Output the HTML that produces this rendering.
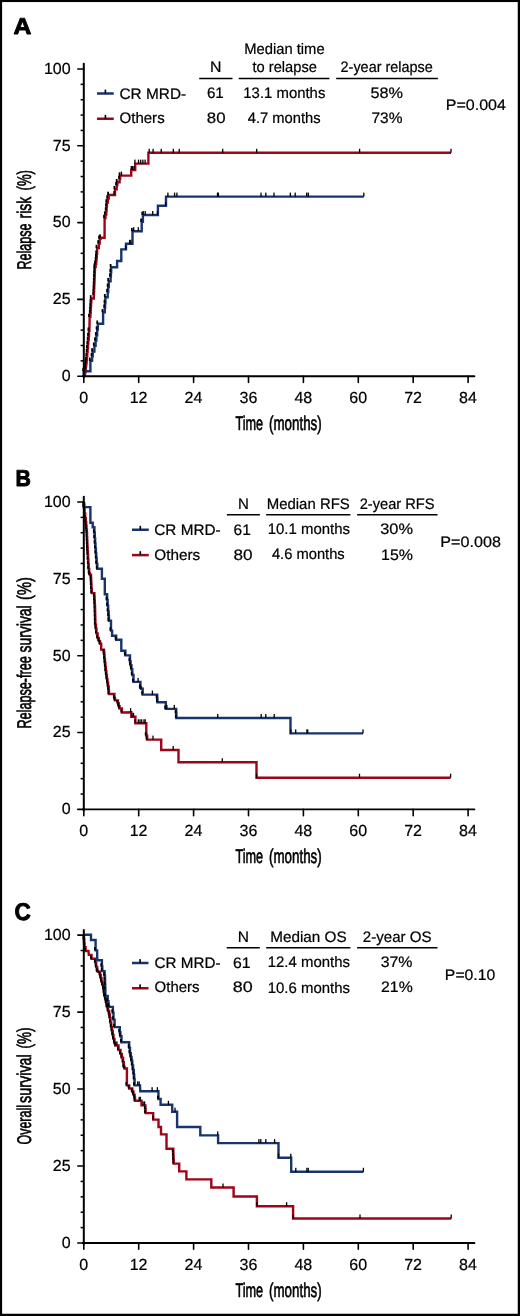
<!DOCTYPE html>
<html><head><meta charset="utf-8"><style>
html,body{margin:0;padding:0;background:#fff;}
svg{display:block;will-change:transform;}
text{font-family:'Liberation Sans', sans-serif;fill:#000;text-rendering:geometricPrecision;}
</style></head><body>
<svg width="520" height="1316" viewBox="0 0 520 1316">
<rect x="0" y="0" width="520" height="1316" fill="#fff"/>
<path d="M85.00,376.20 L85.00,372.00 L85.60,372.00 L85.60,369.00 L85.90,369.00 L85.90,366.00 L86.20,366.00 L86.20,363.00 L86.55,363.00 L86.55,360.00 L86.90,360.00 L86.90,356.00 L87.25,356.00 L87.25,352.00 L87.60,352.00 L87.60,348.00 L87.95,348.00 L87.95,344.00 L88.30,344.00 L88.30,340.00 L88.65,340.00 L88.65,336.00 L89.00,336.00 L89.00,330.80 L89.40,330.80 L89.60,319.20 L89.60,316.90 L90.40,316.90 L90.40,313.22 L90.62,313.22 L90.62,309.54 L90.84,309.54 L90.84,305.86 L91.06,305.86 L91.06,302.18 L91.28,302.18 L91.28,298.50 L91.50,298.50 L93.80,298.50 L93.80,295.02 L93.95,295.02 L93.95,291.55 L94.10,291.55 L94.10,288.08 L94.25,288.08 L94.25,284.60 L94.40,284.60 L94.40,280.85 L94.55,280.85 L94.55,277.10 L94.70,277.10 L94.70,273.35 L94.85,273.35 L94.85,269.60 L95.00,269.60 L95.00,266.70 L95.60,266.70 L95.60,263.80 L96.20,263.80 L96.20,260.47 L96.50,260.47 L96.50,257.13 L96.80,257.13 L96.80,253.80 L97.10,253.80 L97.10,248.10 L98.80,248.10 L98.80,243.45 L99.70,243.45 L99.70,238.80 L100.60,238.80 L100.60,237.70 L102.30,237.70 L104.60,237.70 L104.60,221.50 L104.60,218.05 L105.45,218.05 L105.45,214.60 L106.30,214.60 L106.30,210.55 L106.60,210.55 L106.60,206.50 L106.90,206.50 L106.90,202.50 L107.80,202.50 L107.80,198.50 L108.70,198.50 L108.70,195.00 L109.80,195.00 L115.00,195.00 L115.00,191.50 L115.00,189.20 L116.70,189.20 L116.70,185.20 L117.30,185.20 L117.30,182.30 L119.60,182.30 L119.60,178.80 L120.20,178.80 L120.20,175.60 L121.90,175.60 L131.20,175.60 L131.20,170.00 L135.20,170.00 L135.20,163.60 L148.40,163.60 L148.40,152.80 L451.00,152.80" fill="none" stroke="#9d0519" stroke-width="2.4" stroke-linejoin="miter" stroke-linecap="butt"/>
<path d="M83.80,376.20 L83.80,371.20 L84.60,371.20 L90.40,371.20 L90.40,361.90 L90.40,360.80 L92.10,360.80 L92.10,356.20 L92.70,356.20 L92.70,351.50 L94.40,351.50 L94.40,345.80 L95.60,345.80 L95.60,340.60 L96.40,340.60 L96.40,335.40 L97.20,335.40 L97.20,329.60 L97.85,329.60 L97.85,323.80 L98.50,323.80 L103.10,323.80 L103.10,313.50 L103.10,312.30 L104.80,312.30 L104.80,307.70 L105.10,307.70 L105.10,303.10 L105.40,303.10 L105.40,297.30 L107.70,297.30 L107.70,292.10 L108.25,292.10 L108.25,286.90 L108.80,286.90 L108.80,281.20 L110.60,281.20 L110.60,276.57 L110.90,276.57 L110.90,271.93 L111.20,271.93 L111.20,267.30 L111.50,267.30 L117.10,267.30 L117.10,261.00 L121.30,261.00 L121.30,249.40 L126.00,249.40 L126.00,243.80 L132.50,243.80 L132.50,238.10 L132.50,231.20 L133.70,231.20 L141.70,231.20 L141.70,223.10 L141.70,221.90 L142.90,221.90 L142.90,215.00 L143.50,215.00 L157.90,215.00 L157.90,205.80 L166.00,205.80 L166.00,196.60 L363.80,196.60" fill="none" stroke="#17346d" stroke-width="2.4" stroke-linejoin="miter" stroke-linecap="butt"/>
<rect x="83.50" y="368.70" width="1.8" height="3.3" fill="#000"/>
<rect x="84.10" y="365.70" width="1.8" height="3.3" fill="#000"/>
<rect x="84.40" y="362.70" width="1.8" height="3.3" fill="#000"/>
<rect x="84.70" y="359.70" width="1.8" height="3.3" fill="#000"/>
<rect x="85.05" y="356.70" width="1.8" height="3.3" fill="#000"/>
<rect x="85.40" y="352.70" width="1.8" height="3.3" fill="#000"/>
<rect x="85.75" y="348.70" width="1.8" height="3.3" fill="#000"/>
<rect x="86.10" y="344.70" width="1.8" height="3.3" fill="#000"/>
<rect x="86.45" y="340.70" width="1.8" height="3.3" fill="#000"/>
<rect x="86.80" y="336.70" width="1.8" height="3.3" fill="#000"/>
<rect x="87.15" y="332.70" width="1.8" height="3.3" fill="#000"/>
<rect x="87.50" y="327.50" width="1.8" height="3.3" fill="#000"/>
<rect x="88.10" y="313.60" width="1.8" height="3.3" fill="#000"/>
<rect x="88.90" y="309.92" width="1.8" height="3.3" fill="#000"/>
<rect x="89.12" y="306.24" width="1.8" height="3.3" fill="#000"/>
<rect x="89.34" y="302.56" width="1.8" height="3.3" fill="#000"/>
<rect x="89.56" y="298.88" width="1.8" height="3.3" fill="#000"/>
<rect x="89.78" y="295.20" width="1.8" height="3.3" fill="#000"/>
<rect x="92.30" y="291.72" width="1.8" height="3.3" fill="#000"/>
<rect x="92.45" y="288.25" width="1.8" height="3.3" fill="#000"/>
<rect x="92.60" y="284.78" width="1.8" height="3.3" fill="#000"/>
<rect x="92.75" y="281.30" width="1.8" height="3.3" fill="#000"/>
<rect x="92.90" y="277.55" width="1.8" height="3.3" fill="#000"/>
<rect x="93.05" y="273.80" width="1.8" height="3.3" fill="#000"/>
<rect x="93.20" y="270.05" width="1.8" height="3.3" fill="#000"/>
<rect x="93.35" y="266.30" width="1.8" height="3.3" fill="#000"/>
<rect x="93.50" y="263.40" width="1.8" height="3.3" fill="#000"/>
<rect x="94.10" y="260.50" width="1.8" height="3.3" fill="#000"/>
<rect x="94.70" y="257.17" width="1.8" height="3.3" fill="#000"/>
<rect x="95.00" y="253.83" width="1.8" height="3.3" fill="#000"/>
<rect x="95.30" y="250.50" width="1.8" height="3.3" fill="#000"/>
<rect x="95.60" y="244.80" width="1.8" height="3.3" fill="#000"/>
<rect x="97.30" y="240.15" width="1.8" height="3.3" fill="#000"/>
<rect x="98.20" y="235.50" width="1.8" height="3.3" fill="#000"/>
<rect x="99.10" y="234.40" width="1.8" height="3.3" fill="#000"/>
<rect x="103.10" y="214.75" width="1.8" height="3.3" fill="#000"/>
<rect x="103.95" y="211.30" width="1.8" height="3.3" fill="#000"/>
<rect x="104.80" y="207.25" width="1.8" height="3.3" fill="#000"/>
<rect x="105.10" y="203.20" width="1.8" height="3.3" fill="#000"/>
<rect x="105.40" y="199.20" width="1.8" height="3.3" fill="#000"/>
<rect x="106.30" y="195.20" width="1.8" height="3.3" fill="#000"/>
<rect x="107.20" y="191.70" width="1.8" height="3.3" fill="#000"/>
<rect x="113.50" y="185.90" width="1.8" height="3.3" fill="#000"/>
<rect x="115.20" y="181.90" width="1.8" height="3.3" fill="#000"/>
<rect x="115.80" y="179.00" width="1.8" height="3.3" fill="#000"/>
<rect x="118.10" y="175.50" width="1.8" height="3.3" fill="#000"/>
<rect x="118.70" y="172.30" width="1.8" height="3.3" fill="#000"/>
<rect x="82.30" y="367.90" width="1.8" height="3.3" fill="#000"/>
<rect x="88.90" y="357.50" width="1.8" height="3.3" fill="#000"/>
<rect x="90.60" y="352.90" width="1.8" height="3.3" fill="#000"/>
<rect x="91.20" y="348.20" width="1.8" height="3.3" fill="#000"/>
<rect x="92.90" y="342.50" width="1.8" height="3.3" fill="#000"/>
<rect x="94.10" y="337.30" width="1.8" height="3.3" fill="#000"/>
<rect x="94.90" y="332.10" width="1.8" height="3.3" fill="#000"/>
<rect x="95.70" y="326.30" width="1.8" height="3.3" fill="#000"/>
<rect x="96.35" y="320.50" width="1.8" height="3.3" fill="#000"/>
<rect x="101.60" y="309.00" width="1.8" height="3.3" fill="#000"/>
<rect x="103.30" y="304.40" width="1.8" height="3.3" fill="#000"/>
<rect x="103.60" y="299.80" width="1.8" height="3.3" fill="#000"/>
<rect x="103.90" y="294.00" width="1.8" height="3.3" fill="#000"/>
<rect x="106.20" y="288.80" width="1.8" height="3.3" fill="#000"/>
<rect x="106.75" y="283.60" width="1.8" height="3.3" fill="#000"/>
<rect x="107.30" y="277.90" width="1.8" height="3.3" fill="#000"/>
<rect x="109.10" y="273.27" width="1.8" height="3.3" fill="#000"/>
<rect x="109.40" y="268.63" width="1.8" height="3.3" fill="#000"/>
<rect x="109.70" y="264.00" width="1.8" height="3.3" fill="#000"/>
<rect x="131.00" y="227.90" width="1.8" height="3.3" fill="#000"/>
<rect x="140.20" y="218.60" width="1.8" height="3.3" fill="#000"/>
<rect x="141.40" y="211.70" width="1.8" height="3.3" fill="#000"/>
<rect x="148.55" y="148.80" width="1.3" height="4.0" fill="#000"/>
<rect x="152.45" y="148.80" width="1.3" height="4.0" fill="#000"/>
<rect x="160.55" y="148.80" width="1.3" height="4.0" fill="#000"/>
<rect x="172.65" y="148.80" width="1.3" height="4.0" fill="#000"/>
<rect x="178.55" y="148.80" width="1.3" height="4.0" fill="#000"/>
<rect x="222.05" y="148.80" width="1.3" height="4.0" fill="#000"/>
<rect x="256.05" y="148.80" width="1.3" height="4.0" fill="#000"/>
<rect x="358.95" y="148.80" width="1.3" height="4.0" fill="#000"/>
<rect x="450.35" y="148.80" width="1.3" height="4.0" fill="#000"/>
<rect x="134.25" y="159.60" width="1.3" height="4.0" fill="#000"/>
<rect x="137.85" y="159.60" width="1.3" height="4.0" fill="#000"/>
<rect x="140.05" y="159.60" width="1.3" height="4.0" fill="#000"/>
<rect x="142.25" y="159.60" width="1.3" height="4.0" fill="#000"/>
<rect x="144.45" y="159.60" width="1.3" height="4.0" fill="#000"/>
<rect x="130.65" y="166.00" width="1.3" height="4.0" fill="#000"/>
<rect x="131.95" y="166.00" width="1.3" height="4.0" fill="#000"/>
<rect x="133.35" y="166.00" width="1.3" height="4.0" fill="#000"/>
<rect x="120.85" y="171.60" width="1.3" height="4.0" fill="#000"/>
<rect x="113.35" y="191.00" width="1.3" height="4.0" fill="#000"/>
<rect x="164.95" y="201.80" width="1.3" height="4.0" fill="#000"/>
<rect x="167.25" y="192.60" width="1.3" height="4.0" fill="#000"/>
<rect x="173.95" y="192.60" width="1.3" height="4.0" fill="#000"/>
<rect x="176.25" y="192.60" width="1.3" height="4.0" fill="#000"/>
<rect x="216.85" y="192.60" width="1.3" height="4.0" fill="#000"/>
<rect x="217.75" y="192.60" width="1.3" height="4.0" fill="#000"/>
<rect x="260.35" y="192.60" width="1.3" height="4.0" fill="#000"/>
<rect x="265.15" y="192.60" width="1.3" height="4.0" fill="#000"/>
<rect x="273.35" y="192.60" width="1.3" height="4.0" fill="#000"/>
<rect x="289.65" y="192.60" width="1.3" height="4.0" fill="#000"/>
<rect x="294.55" y="192.60" width="1.3" height="4.0" fill="#000"/>
<rect x="306.05" y="192.60" width="1.3" height="4.0" fill="#000"/>
<rect x="307.65" y="192.60" width="1.3" height="4.0" fill="#000"/>
<rect x="363.15" y="192.60" width="1.3" height="4.0" fill="#000"/>
<rect x="156.85" y="211.00" width="1.3" height="4.0" fill="#000"/>
<rect x="142.55" y="211.00" width="1.3" height="4.0" fill="#000"/>
<rect x="144.55" y="211.00" width="1.3" height="4.0" fill="#000"/>
<rect x="152.05" y="211.00" width="1.3" height="4.0" fill="#000"/>
<rect x="133.05" y="227.20" width="1.3" height="4.0" fill="#000"/>
<rect x="137.65" y="227.20" width="1.3" height="4.0" fill="#000"/>
<rect x="124.95" y="245.40" width="1.3" height="4.0" fill="#000"/>
<rect x="128.95" y="239.80" width="1.3" height="4.0" fill="#000"/>
<rect x="130.15" y="239.80" width="1.3" height="4.0" fill="#000"/>
<path d="M84.00,502.00 L84.00,505.40 L84.30,505.40 L84.30,508.80 L84.60,508.80 L84.60,513.45 L85.20,513.45 L85.20,518.10 L85.80,518.10 L85.80,521.93 L86.17,521.93 L86.17,525.77 L86.53,525.77 L86.53,529.60 L86.90,529.60 L86.90,533.35 L87.05,533.35 L87.05,537.10 L87.20,537.10 L87.20,540.85 L87.35,540.85 L87.35,544.60 L87.50,544.60 L87.50,548.07 L87.70,548.07 L87.70,551.53 L87.90,551.53 L87.90,555.00 L88.10,555.00 L88.10,559.60 L88.40,559.60 L88.40,564.20 L88.70,564.20 L88.70,568.85 L89.25,568.85 L89.25,573.50 L89.80,573.50 L89.80,574.60 L91.00,574.60 L91.00,578.07 L91.17,578.07 L91.17,581.53 L91.33,581.53 L91.33,585.00 L91.50,585.00 L91.50,589.05 L91.80,589.05 L91.80,593.10 L92.10,593.10 L94.40,593.10 L94.40,596.93 L94.60,596.93 L94.60,600.77 L94.80,600.77 L94.80,604.60 L95.00,604.60 L95.00,608.65 L95.10,608.65 L95.10,612.70 L95.20,612.70 L95.20,616.75 L95.30,616.75 L95.30,620.80 L95.40,620.80 L95.40,624.80 L95.95,624.80 L95.95,628.80 L96.50,628.80 L96.50,633.40 L97.65,633.40 L97.65,638.00 L98.80,638.00 L98.80,640.90 L100.00,640.90 L100.00,643.80 L101.20,643.80 L101.20,649.60 L104.00,649.60 L104.00,652.50 L104.30,652.50 L104.30,655.40 L104.60,655.40 L104.60,659.23 L105.00,659.23 L105.00,663.07 L105.40,663.07 L105.40,666.90 L105.80,666.90 L105.80,670.95 L106.35,670.95 L106.35,675.00 L106.90,675.00 L106.90,678.83 L107.50,678.83 L107.50,682.67 L108.10,682.67 L108.10,686.50 L108.70,686.50 L108.70,690.25 L108.95,690.25 L108.95,694.00 L109.20,694.00 L114.40,694.00 L114.40,698.00 L115.00,698.00 L115.00,700.40 L117.90,700.40 L117.90,703.30 L118.75,703.30 L118.75,706.20 L119.60,706.20 L119.60,708.50 L121.90,708.50 L121.90,712.50 L122.50,712.50 L131.30,712.20 L131.30,716.80 L135.40,716.80 L135.40,723.30 L146.30,723.30 L146.30,731.50 L146.30,735.55 L147.15,735.55 L147.15,739.60 L148.00,739.60 L161.20,739.60 L161.20,750.00 L178.50,750.00 L178.50,762.30 L256.50,762.30 L256.50,777.70 L450.60,777.70" fill="none" stroke="#9d0519" stroke-width="2.4" stroke-linejoin="miter" stroke-linecap="butt"/>
<path d="M84.00,502.00 L84.00,507.10 L84.60,507.10 L90.40,507.10 L90.40,522.70 L92.70,522.70 L92.70,527.30 L94.40,527.30 L94.40,532.70 L94.77,532.70 L94.77,538.10 L95.13,538.10 L95.13,543.50 L95.50,543.50 L95.50,548.50 L95.90,548.50 L95.90,553.50 L96.30,553.50 L96.30,558.50 L96.70,558.50 L96.70,563.65 L97.30,563.65 L97.30,568.80 L97.90,568.80 L101.90,568.80 L101.90,578.70 L104.80,578.70 L104.80,594.20 L107.10,594.20 L107.10,599.97 L107.63,599.97 L107.63,605.73 L108.17,605.73 L108.17,611.50 L108.70,611.50 L108.70,616.15 L108.95,616.15 L108.95,620.80 L109.20,620.80 L111.00,620.80 L111.00,630.00 L111.00,630.60 L112.10,630.60 L112.10,635.80 L116.20,635.80 L116.20,639.80 L116.70,639.80 L121.30,639.80 L121.30,650.80 L125.40,650.80 L125.40,655.40 L126.00,655.40 L130.00,655.40 L130.00,661.20 L130.60,661.20 L130.60,665.20 L131.45,665.20 L131.45,669.20 L132.30,669.20 L132.30,675.00 L133.50,675.00 L133.50,681.90 L134.00,681.90 L140.40,681.90 L140.40,687.70 L141.10,687.70 L141.10,688.80 L142.70,688.80 L142.70,694.60 L143.40,694.60 L157.20,694.60 L157.20,698.40 L157.45,698.40 L157.45,702.20 L157.70,702.20 L165.80,702.20 L165.80,708.90 L166.20,708.90 L176.20,708.90 L176.20,713.45 L176.40,713.45 L176.40,718.00 L176.60,718.00 L290.50,718.00 L290.50,733.40 L363.00,733.40" fill="none" stroke="#17346d" stroke-width="2.4" stroke-linejoin="miter" stroke-linecap="butt"/>
<rect x="82.50" y="502.10" width="1.8" height="3.3" fill="#000"/>
<rect x="82.80" y="505.50" width="1.8" height="3.3" fill="#000"/>
<rect x="83.10" y="510.15" width="1.8" height="3.3" fill="#000"/>
<rect x="83.70" y="514.80" width="1.8" height="3.3" fill="#000"/>
<rect x="84.30" y="518.63" width="1.8" height="3.3" fill="#000"/>
<rect x="84.67" y="522.47" width="1.8" height="3.3" fill="#000"/>
<rect x="85.03" y="526.30" width="1.8" height="3.3" fill="#000"/>
<rect x="85.40" y="530.05" width="1.8" height="3.3" fill="#000"/>
<rect x="85.55" y="533.80" width="1.8" height="3.3" fill="#000"/>
<rect x="85.70" y="537.55" width="1.8" height="3.3" fill="#000"/>
<rect x="85.85" y="541.30" width="1.8" height="3.3" fill="#000"/>
<rect x="86.00" y="544.77" width="1.8" height="3.3" fill="#000"/>
<rect x="86.20" y="548.23" width="1.8" height="3.3" fill="#000"/>
<rect x="86.40" y="551.70" width="1.8" height="3.3" fill="#000"/>
<rect x="86.60" y="556.30" width="1.8" height="3.3" fill="#000"/>
<rect x="86.90" y="560.90" width="1.8" height="3.3" fill="#000"/>
<rect x="87.20" y="565.55" width="1.8" height="3.3" fill="#000"/>
<rect x="87.75" y="570.20" width="1.8" height="3.3" fill="#000"/>
<rect x="88.30" y="571.30" width="1.8" height="3.3" fill="#000"/>
<rect x="89.50" y="574.77" width="1.8" height="3.3" fill="#000"/>
<rect x="89.67" y="578.23" width="1.8" height="3.3" fill="#000"/>
<rect x="89.83" y="581.70" width="1.8" height="3.3" fill="#000"/>
<rect x="90.00" y="585.75" width="1.8" height="3.3" fill="#000"/>
<rect x="90.30" y="589.80" width="1.8" height="3.3" fill="#000"/>
<rect x="92.90" y="593.63" width="1.8" height="3.3" fill="#000"/>
<rect x="93.10" y="597.47" width="1.8" height="3.3" fill="#000"/>
<rect x="93.30" y="601.30" width="1.8" height="3.3" fill="#000"/>
<rect x="93.50" y="605.35" width="1.8" height="3.3" fill="#000"/>
<rect x="93.60" y="609.40" width="1.8" height="3.3" fill="#000"/>
<rect x="93.70" y="613.45" width="1.8" height="3.3" fill="#000"/>
<rect x="93.80" y="617.50" width="1.8" height="3.3" fill="#000"/>
<rect x="93.90" y="621.50" width="1.8" height="3.3" fill="#000"/>
<rect x="94.45" y="625.50" width="1.8" height="3.3" fill="#000"/>
<rect x="95.00" y="630.10" width="1.8" height="3.3" fill="#000"/>
<rect x="96.15" y="634.70" width="1.8" height="3.3" fill="#000"/>
<rect x="97.30" y="637.60" width="1.8" height="3.3" fill="#000"/>
<rect x="98.50" y="640.50" width="1.8" height="3.3" fill="#000"/>
<rect x="102.50" y="649.20" width="1.8" height="3.3" fill="#000"/>
<rect x="102.80" y="652.10" width="1.8" height="3.3" fill="#000"/>
<rect x="103.10" y="655.93" width="1.8" height="3.3" fill="#000"/>
<rect x="103.50" y="659.77" width="1.8" height="3.3" fill="#000"/>
<rect x="103.90" y="663.60" width="1.8" height="3.3" fill="#000"/>
<rect x="104.30" y="667.65" width="1.8" height="3.3" fill="#000"/>
<rect x="104.85" y="671.70" width="1.8" height="3.3" fill="#000"/>
<rect x="105.40" y="675.53" width="1.8" height="3.3" fill="#000"/>
<rect x="106.00" y="679.37" width="1.8" height="3.3" fill="#000"/>
<rect x="106.60" y="683.20" width="1.8" height="3.3" fill="#000"/>
<rect x="107.20" y="686.95" width="1.8" height="3.3" fill="#000"/>
<rect x="107.45" y="690.70" width="1.8" height="3.3" fill="#000"/>
<rect x="112.90" y="694.70" width="1.8" height="3.3" fill="#000"/>
<rect x="113.50" y="697.10" width="1.8" height="3.3" fill="#000"/>
<rect x="116.40" y="700.00" width="1.8" height="3.3" fill="#000"/>
<rect x="117.25" y="702.90" width="1.8" height="3.3" fill="#000"/>
<rect x="118.10" y="705.20" width="1.8" height="3.3" fill="#000"/>
<rect x="120.40" y="709.20" width="1.8" height="3.3" fill="#000"/>
<rect x="144.80" y="732.25" width="1.8" height="3.3" fill="#000"/>
<rect x="145.65" y="736.30" width="1.8" height="3.3" fill="#000"/>
<rect x="82.50" y="503.80" width="1.8" height="3.3" fill="#000"/>
<rect x="92.90" y="529.40" width="1.8" height="3.3" fill="#000"/>
<rect x="93.27" y="534.80" width="1.8" height="3.3" fill="#000"/>
<rect x="93.63" y="540.20" width="1.8" height="3.3" fill="#000"/>
<rect x="94.00" y="545.20" width="1.8" height="3.3" fill="#000"/>
<rect x="94.40" y="550.20" width="1.8" height="3.3" fill="#000"/>
<rect x="94.80" y="555.20" width="1.8" height="3.3" fill="#000"/>
<rect x="95.20" y="560.35" width="1.8" height="3.3" fill="#000"/>
<rect x="95.80" y="565.50" width="1.8" height="3.3" fill="#000"/>
<rect x="105.60" y="596.67" width="1.8" height="3.3" fill="#000"/>
<rect x="106.13" y="602.43" width="1.8" height="3.3" fill="#000"/>
<rect x="106.67" y="608.20" width="1.8" height="3.3" fill="#000"/>
<rect x="107.20" y="612.85" width="1.8" height="3.3" fill="#000"/>
<rect x="107.45" y="617.50" width="1.8" height="3.3" fill="#000"/>
<rect x="109.50" y="627.30" width="1.8" height="3.3" fill="#000"/>
<rect x="114.70" y="636.50" width="1.8" height="3.3" fill="#000"/>
<rect x="123.90" y="652.10" width="1.8" height="3.3" fill="#000"/>
<rect x="128.50" y="657.90" width="1.8" height="3.3" fill="#000"/>
<rect x="129.10" y="661.90" width="1.8" height="3.3" fill="#000"/>
<rect x="129.95" y="665.90" width="1.8" height="3.3" fill="#000"/>
<rect x="130.80" y="671.70" width="1.8" height="3.3" fill="#000"/>
<rect x="132.00" y="678.60" width="1.8" height="3.3" fill="#000"/>
<rect x="138.90" y="684.40" width="1.8" height="3.3" fill="#000"/>
<rect x="139.60" y="685.50" width="1.8" height="3.3" fill="#000"/>
<rect x="141.20" y="691.30" width="1.8" height="3.3" fill="#000"/>
<rect x="155.70" y="695.10" width="1.8" height="3.3" fill="#000"/>
<rect x="155.95" y="698.90" width="1.8" height="3.3" fill="#000"/>
<rect x="164.30" y="705.60" width="1.8" height="3.3" fill="#000"/>
<rect x="174.70" y="710.15" width="1.8" height="3.3" fill="#000"/>
<rect x="174.90" y="714.70" width="1.8" height="3.3" fill="#000"/>
<rect x="137.45" y="677.90" width="1.3" height="4.0" fill="#000"/>
<rect x="151.75" y="690.60" width="1.3" height="4.0" fill="#000"/>
<rect x="166.25" y="704.90" width="1.3" height="4.0" fill="#000"/>
<rect x="173.65" y="704.90" width="1.3" height="4.0" fill="#000"/>
<rect x="217.05" y="714.00" width="1.3" height="4.0" fill="#000"/>
<rect x="260.55" y="714.00" width="1.3" height="4.0" fill="#000"/>
<rect x="265.15" y="714.00" width="1.3" height="4.0" fill="#000"/>
<rect x="273.55" y="714.00" width="1.3" height="4.0" fill="#000"/>
<rect x="290.15" y="729.40" width="1.3" height="4.0" fill="#000"/>
<rect x="295.05" y="729.40" width="1.3" height="4.0" fill="#000"/>
<rect x="306.25" y="729.40" width="1.3" height="4.0" fill="#000"/>
<rect x="307.05" y="729.40" width="1.3" height="4.0" fill="#000"/>
<rect x="362.35" y="729.40" width="1.3" height="4.0" fill="#000"/>
<rect x="129.95" y="708.22" width="1.3" height="4.0" fill="#000"/>
<rect x="131.35" y="712.80" width="1.3" height="4.0" fill="#000"/>
<rect x="132.85" y="712.80" width="1.3" height="4.0" fill="#000"/>
<rect x="134.45" y="719.30" width="1.3" height="4.0" fill="#000"/>
<rect x="137.65" y="719.30" width="1.3" height="4.0" fill="#000"/>
<rect x="139.35" y="719.30" width="1.3" height="4.0" fill="#000"/>
<rect x="141.05" y="719.30" width="1.3" height="4.0" fill="#000"/>
<rect x="143.35" y="719.30" width="1.3" height="4.0" fill="#000"/>
<rect x="144.55" y="719.30" width="1.3" height="4.0" fill="#000"/>
<rect x="152.35" y="735.60" width="1.3" height="4.0" fill="#000"/>
<rect x="172.55" y="746.00" width="1.3" height="4.0" fill="#000"/>
<rect x="221.65" y="758.30" width="1.3" height="4.0" fill="#000"/>
<rect x="255.85" y="773.70" width="1.3" height="4.0" fill="#000"/>
<rect x="358.85" y="773.70" width="1.3" height="4.0" fill="#000"/>
<rect x="449.95" y="773.70" width="1.3" height="4.0" fill="#000"/>
<path d="M84.00,935.40 L84.00,939.40 L84.30,939.40 L84.30,943.40 L84.60,943.40 L84.60,947.20 L85.55,947.20 L85.55,951.00 L86.50,951.00 L88.50,951.00 L88.80,954.90 L91.50,954.90 L91.50,958.80 L91.90,958.80 L95.40,958.80 L95.40,962.60 L96.20,962.60 L96.20,966.85 L97.15,966.85 L97.15,971.10 L98.10,971.10 L98.10,971.80 L100.00,971.80 L100.00,974.90 L100.75,974.90 L100.75,978.00 L101.50,978.00 L101.50,981.50 L102.50,981.50 L102.50,985.00 L103.50,985.00 L103.50,988.85 L104.05,988.85 L104.05,992.70 L104.60,992.70 L104.60,996.13 L105.40,996.13 L105.40,999.57 L106.20,999.57 L106.20,1003.00 L107.00,1003.00 L107.00,1007.00 L108.10,1007.00 L108.10,1011.00 L109.20,1011.00 L109.20,1014.50 L109.85,1014.50 L109.85,1018.00 L110.50,1018.00 L110.50,1022.50 L111.25,1022.50 L111.25,1027.00 L112.00,1027.00 L112.00,1031.00 L112.75,1031.00 L112.75,1035.00 L113.50,1035.00 L113.50,1038.85 L114.45,1038.85 L114.45,1042.70 L115.40,1042.70 L115.40,1045.50 L118.50,1045.50 L118.50,1050.00 L120.50,1050.00 L120.50,1053.85 L121.80,1053.85 L121.80,1057.70 L123.10,1057.70 L123.10,1062.30 L123.85,1062.30 L123.85,1066.90 L124.60,1066.90 L124.60,1068.50 L126.90,1068.50 L126.90,1080.80 L126.90,1085.40 L129.20,1085.40 L129.20,1088.50 L132.30,1088.50 L132.30,1091.55 L133.45,1091.55 L133.45,1094.60 L134.60,1094.60 L134.60,1097.70 L135.00,1097.70 L135.00,1100.80 L135.40,1100.80 L141.50,1100.80 L141.50,1105.40 L145.40,1105.40 L145.40,1109.25 L145.60,1109.25 L145.60,1113.10 L145.80,1113.10 L153.20,1113.10 L153.20,1119.60 L158.50,1119.60 L158.50,1127.00 L161.00,1127.00 L161.00,1134.40 L166.50,1134.40 L166.50,1148.80 L173.30,1148.80 L173.30,1152.50 L173.45,1152.50 L173.45,1156.20 L173.60,1156.20 L173.60,1159.90 L173.75,1159.90 L173.75,1163.60 L173.90,1163.60 L179.20,1163.60 L179.20,1171.40 L186.40,1171.40 L186.40,1179.40 L211.30,1179.40 L211.30,1187.50 L233.60,1187.50 L233.60,1196.50 L256.90,1196.50 L256.90,1206.20 L293.10,1206.20 L293.10,1218.50 L451.20,1218.50" fill="none" stroke="#9d0519" stroke-width="2.4" stroke-linejoin="miter" stroke-linecap="butt"/>
<path d="M84.00,934.80 L91.00,934.80 L91.00,940.00 L95.60,940.00 L95.60,949.80 L95.60,950.40 L97.10,950.40 L97.30,960.20 L101.90,960.20 L101.90,966.50 L102.30,966.50 L102.30,971.10 L103.10,971.10 L104.60,971.10 L104.60,975.70 L105.00,975.70 L105.00,980.30 L105.13,980.30 L105.13,984.90 L105.27,984.90 L105.27,989.50 L105.40,989.50 L105.40,996.00 L106.20,996.00 L107.70,996.00 L107.70,1001.20 L108.50,1001.20 L108.50,1006.50 L109.20,1006.50 L109.20,1006.90 L112.90,1006.90 L112.90,1012.70 L113.50,1012.70 L113.50,1019.60 L114.60,1019.60 L114.60,1027.10 L115.20,1027.10 L119.80,1027.10 L119.80,1032.30 L120.40,1032.30 L120.40,1036.20 L121.50,1036.20 L121.50,1042.30 L123.10,1042.30 L129.20,1042.30 L129.20,1047.70 L130.00,1047.70 L130.00,1053.10 L130.80,1053.10 L130.80,1056.95 L131.55,1056.95 L131.55,1060.80 L132.30,1060.80 L132.30,1065.40 L133.05,1065.40 L133.05,1070.00 L133.80,1070.00 L133.80,1074.60 L134.20,1074.60 L134.20,1079.20 L134.60,1079.20 L134.60,1085.40 L135.10,1085.40 L140.00,1085.40 L140.30,1091.20 L158.40,1091.20 L158.50,1098.00 L158.50,1099.00 L160.60,1099.00 L160.60,1104.80 L172.20,1104.80 L172.20,1111.70 L177.10,1111.70 L177.10,1127.00 L200.30,1127.00 L200.30,1135.40 L218.10,1135.40 L218.10,1143.10 L278.50,1143.10 L278.50,1157.70 L291.20,1157.70 L291.20,1171.80 L363.40,1171.80" fill="none" stroke="#17346d" stroke-width="2.4" stroke-linejoin="miter" stroke-linecap="butt"/>
<rect x="82.50" y="936.10" width="1.8" height="3.3" fill="#000"/>
<rect x="82.80" y="940.10" width="1.8" height="3.3" fill="#000"/>
<rect x="83.10" y="943.90" width="1.8" height="3.3" fill="#000"/>
<rect x="84.05" y="947.70" width="1.8" height="3.3" fill="#000"/>
<rect x="90.00" y="955.50" width="1.8" height="3.3" fill="#000"/>
<rect x="93.90" y="959.30" width="1.8" height="3.3" fill="#000"/>
<rect x="94.70" y="963.55" width="1.8" height="3.3" fill="#000"/>
<rect x="95.65" y="967.80" width="1.8" height="3.3" fill="#000"/>
<rect x="96.60" y="968.50" width="1.8" height="3.3" fill="#000"/>
<rect x="98.50" y="971.60" width="1.8" height="3.3" fill="#000"/>
<rect x="99.25" y="974.70" width="1.8" height="3.3" fill="#000"/>
<rect x="100.00" y="978.20" width="1.8" height="3.3" fill="#000"/>
<rect x="101.00" y="981.70" width="1.8" height="3.3" fill="#000"/>
<rect x="102.00" y="985.55" width="1.8" height="3.3" fill="#000"/>
<rect x="102.55" y="989.40" width="1.8" height="3.3" fill="#000"/>
<rect x="103.10" y="992.83" width="1.8" height="3.3" fill="#000"/>
<rect x="103.90" y="996.27" width="1.8" height="3.3" fill="#000"/>
<rect x="104.70" y="999.70" width="1.8" height="3.3" fill="#000"/>
<rect x="105.50" y="1003.70" width="1.8" height="3.3" fill="#000"/>
<rect x="106.60" y="1007.70" width="1.8" height="3.3" fill="#000"/>
<rect x="107.70" y="1011.20" width="1.8" height="3.3" fill="#000"/>
<rect x="108.35" y="1014.70" width="1.8" height="3.3" fill="#000"/>
<rect x="109.00" y="1019.20" width="1.8" height="3.3" fill="#000"/>
<rect x="109.75" y="1023.70" width="1.8" height="3.3" fill="#000"/>
<rect x="110.50" y="1027.70" width="1.8" height="3.3" fill="#000"/>
<rect x="111.25" y="1031.70" width="1.8" height="3.3" fill="#000"/>
<rect x="112.00" y="1035.55" width="1.8" height="3.3" fill="#000"/>
<rect x="112.95" y="1039.40" width="1.8" height="3.3" fill="#000"/>
<rect x="113.90" y="1042.20" width="1.8" height="3.3" fill="#000"/>
<rect x="117.00" y="1046.70" width="1.8" height="3.3" fill="#000"/>
<rect x="119.00" y="1050.55" width="1.8" height="3.3" fill="#000"/>
<rect x="120.30" y="1054.40" width="1.8" height="3.3" fill="#000"/>
<rect x="121.60" y="1059.00" width="1.8" height="3.3" fill="#000"/>
<rect x="122.35" y="1063.60" width="1.8" height="3.3" fill="#000"/>
<rect x="123.10" y="1065.20" width="1.8" height="3.3" fill="#000"/>
<rect x="125.40" y="1082.10" width="1.8" height="3.3" fill="#000"/>
<rect x="127.70" y="1085.20" width="1.8" height="3.3" fill="#000"/>
<rect x="130.80" y="1088.25" width="1.8" height="3.3" fill="#000"/>
<rect x="131.95" y="1091.30" width="1.8" height="3.3" fill="#000"/>
<rect x="133.10" y="1094.40" width="1.8" height="3.3" fill="#000"/>
<rect x="133.50" y="1097.50" width="1.8" height="3.3" fill="#000"/>
<rect x="143.90" y="1105.95" width="1.8" height="3.3" fill="#000"/>
<rect x="144.10" y="1109.80" width="1.8" height="3.3" fill="#000"/>
<rect x="171.80" y="1149.20" width="1.8" height="3.3" fill="#000"/>
<rect x="171.95" y="1152.90" width="1.8" height="3.3" fill="#000"/>
<rect x="172.10" y="1156.60" width="1.8" height="3.3" fill="#000"/>
<rect x="172.25" y="1160.30" width="1.8" height="3.3" fill="#000"/>
<rect x="94.10" y="947.10" width="1.8" height="3.3" fill="#000"/>
<rect x="100.40" y="963.20" width="1.8" height="3.3" fill="#000"/>
<rect x="100.80" y="967.80" width="1.8" height="3.3" fill="#000"/>
<rect x="103.10" y="972.40" width="1.8" height="3.3" fill="#000"/>
<rect x="103.50" y="977.00" width="1.8" height="3.3" fill="#000"/>
<rect x="103.63" y="981.60" width="1.8" height="3.3" fill="#000"/>
<rect x="103.77" y="986.20" width="1.8" height="3.3" fill="#000"/>
<rect x="103.90" y="992.70" width="1.8" height="3.3" fill="#000"/>
<rect x="106.20" y="997.90" width="1.8" height="3.3" fill="#000"/>
<rect x="107.00" y="1003.20" width="1.8" height="3.3" fill="#000"/>
<rect x="107.70" y="1003.60" width="1.8" height="3.3" fill="#000"/>
<rect x="111.40" y="1009.40" width="1.8" height="3.3" fill="#000"/>
<rect x="112.00" y="1016.30" width="1.8" height="3.3" fill="#000"/>
<rect x="113.10" y="1023.80" width="1.8" height="3.3" fill="#000"/>
<rect x="118.30" y="1029.00" width="1.8" height="3.3" fill="#000"/>
<rect x="118.90" y="1032.90" width="1.8" height="3.3" fill="#000"/>
<rect x="120.00" y="1039.00" width="1.8" height="3.3" fill="#000"/>
<rect x="127.70" y="1044.40" width="1.8" height="3.3" fill="#000"/>
<rect x="128.50" y="1049.80" width="1.8" height="3.3" fill="#000"/>
<rect x="129.30" y="1053.65" width="1.8" height="3.3" fill="#000"/>
<rect x="130.05" y="1057.50" width="1.8" height="3.3" fill="#000"/>
<rect x="130.80" y="1062.10" width="1.8" height="3.3" fill="#000"/>
<rect x="131.55" y="1066.70" width="1.8" height="3.3" fill="#000"/>
<rect x="132.30" y="1071.30" width="1.8" height="3.3" fill="#000"/>
<rect x="132.70" y="1075.90" width="1.8" height="3.3" fill="#000"/>
<rect x="133.10" y="1082.10" width="1.8" height="3.3" fill="#000"/>
<rect x="157.00" y="1095.70" width="1.8" height="3.3" fill="#000"/>
<rect x="137.05" y="1081.40" width="1.3" height="4.0" fill="#000"/>
<rect x="138.55" y="1081.40" width="1.3" height="4.0" fill="#000"/>
<rect x="151.45" y="1087.20" width="1.3" height="4.0" fill="#000"/>
<rect x="156.75" y="1087.20" width="1.3" height="4.0" fill="#000"/>
<rect x="167.75" y="1100.80" width="1.3" height="4.0" fill="#000"/>
<rect x="174.35" y="1107.70" width="1.3" height="4.0" fill="#000"/>
<rect x="217.05" y="1131.40" width="1.3" height="4.0" fill="#000"/>
<rect x="258.25" y="1139.10" width="1.3" height="4.0" fill="#000"/>
<rect x="260.15" y="1139.10" width="1.3" height="4.0" fill="#000"/>
<rect x="265.15" y="1139.10" width="1.3" height="4.0" fill="#000"/>
<rect x="273.95" y="1139.10" width="1.3" height="4.0" fill="#000"/>
<rect x="277.85" y="1153.70" width="1.3" height="4.0" fill="#000"/>
<rect x="290.15" y="1153.70" width="1.3" height="4.0" fill="#000"/>
<rect x="295.15" y="1167.80" width="1.3" height="4.0" fill="#000"/>
<rect x="306.25" y="1167.80" width="1.3" height="4.0" fill="#000"/>
<rect x="307.55" y="1167.80" width="1.3" height="4.0" fill="#000"/>
<rect x="362.75" y="1167.80" width="1.3" height="4.0" fill="#000"/>
<rect x="116.25" y="1041.50" width="1.3" height="4.0" fill="#000"/>
<rect x="138.55" y="1096.80" width="1.3" height="4.0" fill="#000"/>
<rect x="139.65" y="1096.80" width="1.3" height="4.0" fill="#000"/>
<rect x="142.45" y="1101.40" width="1.3" height="4.0" fill="#000"/>
<rect x="143.95" y="1101.40" width="1.3" height="4.0" fill="#000"/>
<rect x="152.55" y="1115.60" width="1.3" height="4.0" fill="#000"/>
<rect x="222.35" y="1183.50" width="1.3" height="4.0" fill="#000"/>
<rect x="256.25" y="1202.20" width="1.3" height="4.0" fill="#000"/>
<rect x="285.95" y="1202.20" width="1.3" height="4.0" fill="#000"/>
<rect x="292.45" y="1214.50" width="1.3" height="4.0" fill="#000"/>
<rect x="359.35" y="1214.50" width="1.3" height="4.0" fill="#000"/>
<rect x="450.55" y="1214.50" width="1.3" height="4.0" fill="#000"/>
<line x1="83.8" y1="63.8" x2="83.8" y2="377.2" stroke="#000" stroke-width="2" stroke-linecap="round"/>
<line x1="82.8" y1="376.2" x2="474.4" y2="376.2" stroke="#000" stroke-width="1.9" stroke-linecap="round"/>
<line x1="77.8" y1="376.20" x2="83.8" y2="376.20" stroke="#000" stroke-width="1.6" stroke-linecap="round"/>
<text x="70.6" y="381.00" font-size="16" text-anchor="end" stroke="#000" stroke-width="0.22">0</text>
<line x1="80.6" y1="360.84" x2="83.8" y2="360.84" stroke="#000" stroke-width="1.5"/>
<line x1="80.6" y1="345.48" x2="83.8" y2="345.48" stroke="#000" stroke-width="1.5"/>
<line x1="80.6" y1="330.12" x2="83.8" y2="330.12" stroke="#000" stroke-width="1.5"/>
<line x1="80.6" y1="314.76" x2="83.8" y2="314.76" stroke="#000" stroke-width="1.5"/>
<line x1="77.8" y1="299.40" x2="83.8" y2="299.40" stroke="#000" stroke-width="1.6" stroke-linecap="round"/>
<text x="70.6" y="304.20" font-size="16" text-anchor="end" stroke="#000" stroke-width="0.22">25</text>
<line x1="80.6" y1="284.04" x2="83.8" y2="284.04" stroke="#000" stroke-width="1.5"/>
<line x1="80.6" y1="268.68" x2="83.8" y2="268.68" stroke="#000" stroke-width="1.5"/>
<line x1="80.6" y1="253.32" x2="83.8" y2="253.32" stroke="#000" stroke-width="1.5"/>
<line x1="80.6" y1="237.96" x2="83.8" y2="237.96" stroke="#000" stroke-width="1.5"/>
<line x1="77.8" y1="222.60" x2="83.8" y2="222.60" stroke="#000" stroke-width="1.6" stroke-linecap="round"/>
<text x="70.6" y="227.40" font-size="16" text-anchor="end" stroke="#000" stroke-width="0.22">50</text>
<line x1="80.6" y1="207.24" x2="83.8" y2="207.24" stroke="#000" stroke-width="1.5"/>
<line x1="80.6" y1="191.88" x2="83.8" y2="191.88" stroke="#000" stroke-width="1.5"/>
<line x1="80.6" y1="176.52" x2="83.8" y2="176.52" stroke="#000" stroke-width="1.5"/>
<line x1="80.6" y1="161.16" x2="83.8" y2="161.16" stroke="#000" stroke-width="1.5"/>
<line x1="77.8" y1="145.80" x2="83.8" y2="145.80" stroke="#000" stroke-width="1.6" stroke-linecap="round"/>
<text x="70.6" y="150.60" font-size="16" text-anchor="end" stroke="#000" stroke-width="0.22">75</text>
<line x1="80.6" y1="130.44" x2="83.8" y2="130.44" stroke="#000" stroke-width="1.5"/>
<line x1="80.6" y1="115.08" x2="83.8" y2="115.08" stroke="#000" stroke-width="1.5"/>
<line x1="80.6" y1="99.72" x2="83.8" y2="99.72" stroke="#000" stroke-width="1.5"/>
<line x1="80.6" y1="84.36" x2="83.8" y2="84.36" stroke="#000" stroke-width="1.5"/>
<line x1="77.8" y1="69.00" x2="83.8" y2="69.00" stroke="#000" stroke-width="1.6" stroke-linecap="round"/>
<text x="70.6" y="73.80" font-size="16" text-anchor="end" stroke="#000" stroke-width="0.22">100</text>
<line x1="83.80" y1="376.2" x2="83.80" y2="382.5" stroke="#000" stroke-width="1.6" stroke-linecap="round"/>
<text x="83.70" y="402.80" font-size="16" text-anchor="middle" stroke="#000" stroke-width="0.22">0</text>
<line x1="138.70" y1="376.2" x2="138.70" y2="382.5" stroke="#000" stroke-width="1.6" stroke-linecap="round"/>
<text x="138.60" y="402.80" font-size="16" text-anchor="middle" stroke="#000" stroke-width="0.22">12</text>
<line x1="193.60" y1="376.2" x2="193.60" y2="382.5" stroke="#000" stroke-width="1.6" stroke-linecap="round"/>
<text x="193.50" y="402.80" font-size="16" text-anchor="middle" stroke="#000" stroke-width="0.22">24</text>
<line x1="248.50" y1="376.2" x2="248.50" y2="382.5" stroke="#000" stroke-width="1.6" stroke-linecap="round"/>
<text x="248.40" y="402.80" font-size="16" text-anchor="middle" stroke="#000" stroke-width="0.22">36</text>
<line x1="303.40" y1="376.2" x2="303.40" y2="382.5" stroke="#000" stroke-width="1.6" stroke-linecap="round"/>
<text x="303.30" y="402.80" font-size="16" text-anchor="middle" stroke="#000" stroke-width="0.22">48</text>
<line x1="358.30" y1="376.2" x2="358.30" y2="382.5" stroke="#000" stroke-width="1.6" stroke-linecap="round"/>
<text x="358.20" y="402.80" font-size="16" text-anchor="middle" stroke="#000" stroke-width="0.22">60</text>
<line x1="413.20" y1="376.2" x2="413.20" y2="382.5" stroke="#000" stroke-width="1.6" stroke-linecap="round"/>
<text x="413.10" y="402.80" font-size="16" text-anchor="middle" stroke="#000" stroke-width="0.22">72</text>
<line x1="468.10" y1="376.2" x2="468.10" y2="382.5" stroke="#000" stroke-width="1.6" stroke-linecap="round"/>
<text x="468.00" y="402.80" font-size="16" text-anchor="middle" stroke="#000" stroke-width="0.22">84</text>
<text x="235.40" y="429.90" font-size="19.8" textLength="27.70" lengthAdjust="spacingAndGlyphs" stroke="#000" stroke-width="0.65">Time</text>
<text x="269.00" y="429.90" font-size="19.8" textLength="52.70" lengthAdjust="spacingAndGlyphs" stroke="#000" stroke-width="0.65">(months)</text>
<text transform="translate(31.2 0) rotate(-90)" x="-269.50" y="0" font-size="19.8" textLength="46.00" lengthAdjust="spacingAndGlyphs" stroke="#000" stroke-width="0.65">Relapse</text>
<text transform="translate(31.2 0) rotate(-90)" x="-218.50" y="0" font-size="19.8" textLength="21.70" lengthAdjust="spacingAndGlyphs" stroke="#000" stroke-width="0.65">risk</text>
<text transform="translate(31.2 0) rotate(-90)" x="-190.50" y="0" font-size="19.8" textLength="20.50" lengthAdjust="spacingAndGlyphs" stroke="#000" stroke-width="0.65">(%)</text>
<line x1="83.8" y1="496.8" x2="83.8" y2="810.4" stroke="#000" stroke-width="2" stroke-linecap="round"/>
<line x1="82.8" y1="809.4" x2="474.4" y2="809.4" stroke="#000" stroke-width="1.9" stroke-linecap="round"/>
<line x1="77.8" y1="809.40" x2="83.8" y2="809.40" stroke="#000" stroke-width="1.6" stroke-linecap="round"/>
<text x="70.6" y="814.20" font-size="16" text-anchor="end" stroke="#000" stroke-width="0.22">0</text>
<line x1="80.6" y1="794.03" x2="83.8" y2="794.03" stroke="#000" stroke-width="1.5"/>
<line x1="80.6" y1="778.66" x2="83.8" y2="778.66" stroke="#000" stroke-width="1.5"/>
<line x1="80.6" y1="763.29" x2="83.8" y2="763.29" stroke="#000" stroke-width="1.5"/>
<line x1="80.6" y1="747.92" x2="83.8" y2="747.92" stroke="#000" stroke-width="1.5"/>
<line x1="77.8" y1="732.55" x2="83.8" y2="732.55" stroke="#000" stroke-width="1.6" stroke-linecap="round"/>
<text x="70.6" y="737.35" font-size="16" text-anchor="end" stroke="#000" stroke-width="0.22">25</text>
<line x1="80.6" y1="717.18" x2="83.8" y2="717.18" stroke="#000" stroke-width="1.5"/>
<line x1="80.6" y1="701.81" x2="83.8" y2="701.81" stroke="#000" stroke-width="1.5"/>
<line x1="80.6" y1="686.44" x2="83.8" y2="686.44" stroke="#000" stroke-width="1.5"/>
<line x1="80.6" y1="671.07" x2="83.8" y2="671.07" stroke="#000" stroke-width="1.5"/>
<line x1="77.8" y1="655.70" x2="83.8" y2="655.70" stroke="#000" stroke-width="1.6" stroke-linecap="round"/>
<text x="70.6" y="660.50" font-size="16" text-anchor="end" stroke="#000" stroke-width="0.22">50</text>
<line x1="80.6" y1="640.33" x2="83.8" y2="640.33" stroke="#000" stroke-width="1.5"/>
<line x1="80.6" y1="624.96" x2="83.8" y2="624.96" stroke="#000" stroke-width="1.5"/>
<line x1="80.6" y1="609.59" x2="83.8" y2="609.59" stroke="#000" stroke-width="1.5"/>
<line x1="80.6" y1="594.22" x2="83.8" y2="594.22" stroke="#000" stroke-width="1.5"/>
<line x1="77.8" y1="578.85" x2="83.8" y2="578.85" stroke="#000" stroke-width="1.6" stroke-linecap="round"/>
<text x="70.6" y="583.65" font-size="16" text-anchor="end" stroke="#000" stroke-width="0.22">75</text>
<line x1="80.6" y1="563.48" x2="83.8" y2="563.48" stroke="#000" stroke-width="1.5"/>
<line x1="80.6" y1="548.11" x2="83.8" y2="548.11" stroke="#000" stroke-width="1.5"/>
<line x1="80.6" y1="532.74" x2="83.8" y2="532.74" stroke="#000" stroke-width="1.5"/>
<line x1="80.6" y1="517.37" x2="83.8" y2="517.37" stroke="#000" stroke-width="1.5"/>
<line x1="77.8" y1="502.00" x2="83.8" y2="502.00" stroke="#000" stroke-width="1.6" stroke-linecap="round"/>
<text x="70.6" y="506.80" font-size="16" text-anchor="end" stroke="#000" stroke-width="0.22">100</text>
<line x1="83.80" y1="809.4" x2="83.80" y2="815.6999999999999" stroke="#000" stroke-width="1.6" stroke-linecap="round"/>
<text x="83.70" y="836.00" font-size="16" text-anchor="middle" stroke="#000" stroke-width="0.22">0</text>
<line x1="138.70" y1="809.4" x2="138.70" y2="815.6999999999999" stroke="#000" stroke-width="1.6" stroke-linecap="round"/>
<text x="138.60" y="836.00" font-size="16" text-anchor="middle" stroke="#000" stroke-width="0.22">12</text>
<line x1="193.60" y1="809.4" x2="193.60" y2="815.6999999999999" stroke="#000" stroke-width="1.6" stroke-linecap="round"/>
<text x="193.50" y="836.00" font-size="16" text-anchor="middle" stroke="#000" stroke-width="0.22">24</text>
<line x1="248.50" y1="809.4" x2="248.50" y2="815.6999999999999" stroke="#000" stroke-width="1.6" stroke-linecap="round"/>
<text x="248.40" y="836.00" font-size="16" text-anchor="middle" stroke="#000" stroke-width="0.22">36</text>
<line x1="303.40" y1="809.4" x2="303.40" y2="815.6999999999999" stroke="#000" stroke-width="1.6" stroke-linecap="round"/>
<text x="303.30" y="836.00" font-size="16" text-anchor="middle" stroke="#000" stroke-width="0.22">48</text>
<line x1="358.30" y1="809.4" x2="358.30" y2="815.6999999999999" stroke="#000" stroke-width="1.6" stroke-linecap="round"/>
<text x="358.20" y="836.00" font-size="16" text-anchor="middle" stroke="#000" stroke-width="0.22">60</text>
<line x1="413.20" y1="809.4" x2="413.20" y2="815.6999999999999" stroke="#000" stroke-width="1.6" stroke-linecap="round"/>
<text x="413.10" y="836.00" font-size="16" text-anchor="middle" stroke="#000" stroke-width="0.22">72</text>
<line x1="468.10" y1="809.4" x2="468.10" y2="815.6999999999999" stroke="#000" stroke-width="1.6" stroke-linecap="round"/>
<text x="468.00" y="836.00" font-size="16" text-anchor="middle" stroke="#000" stroke-width="0.22">84</text>
<text x="235.40" y="863.10" font-size="19.8" textLength="27.70" lengthAdjust="spacingAndGlyphs" stroke="#000" stroke-width="0.65">Time</text>
<text x="269.00" y="863.10" font-size="19.8" textLength="52.70" lengthAdjust="spacingAndGlyphs" stroke="#000" stroke-width="0.65">(months)</text>
<text transform="translate(31.2 0) rotate(-90)" x="-728.60" y="0" font-size="19.8" textLength="72.50" lengthAdjust="spacingAndGlyphs" stroke="#000" stroke-width="0.65">Relapse-free</text>
<text transform="translate(31.2 0) rotate(-90)" x="-652.50" y="0" font-size="19.8" textLength="47.20" lengthAdjust="spacingAndGlyphs" stroke="#000" stroke-width="0.65">survival</text>
<text transform="translate(31.2 0) rotate(-90)" x="-599.90" y="0" font-size="19.8" textLength="22.80" lengthAdjust="spacingAndGlyphs" stroke="#000" stroke-width="0.65">(%)</text>
<line x1="83.8" y1="930.1" x2="83.8" y2="1244.0" stroke="#000" stroke-width="2" stroke-linecap="round"/>
<line x1="82.8" y1="1243.0" x2="474.4" y2="1243.0" stroke="#000" stroke-width="1.9" stroke-linecap="round"/>
<line x1="77.8" y1="1243.00" x2="83.8" y2="1243.00" stroke="#000" stroke-width="1.6" stroke-linecap="round"/>
<text x="70.6" y="1247.80" font-size="16" text-anchor="end" stroke="#000" stroke-width="0.22">0</text>
<line x1="80.6" y1="1227.61" x2="83.8" y2="1227.61" stroke="#000" stroke-width="1.5"/>
<line x1="80.6" y1="1212.21" x2="83.8" y2="1212.21" stroke="#000" stroke-width="1.5"/>
<line x1="80.6" y1="1196.82" x2="83.8" y2="1196.82" stroke="#000" stroke-width="1.5"/>
<line x1="80.6" y1="1181.42" x2="83.8" y2="1181.42" stroke="#000" stroke-width="1.5"/>
<line x1="77.8" y1="1166.03" x2="83.8" y2="1166.03" stroke="#000" stroke-width="1.6" stroke-linecap="round"/>
<text x="70.6" y="1170.83" font-size="16" text-anchor="end" stroke="#000" stroke-width="0.22">25</text>
<line x1="80.6" y1="1150.63" x2="83.8" y2="1150.63" stroke="#000" stroke-width="1.5"/>
<line x1="80.6" y1="1135.24" x2="83.8" y2="1135.24" stroke="#000" stroke-width="1.5"/>
<line x1="80.6" y1="1119.84" x2="83.8" y2="1119.84" stroke="#000" stroke-width="1.5"/>
<line x1="80.6" y1="1104.44" x2="83.8" y2="1104.44" stroke="#000" stroke-width="1.5"/>
<line x1="77.8" y1="1089.05" x2="83.8" y2="1089.05" stroke="#000" stroke-width="1.6" stroke-linecap="round"/>
<text x="70.6" y="1093.85" font-size="16" text-anchor="end" stroke="#000" stroke-width="0.22">50</text>
<line x1="80.6" y1="1073.65" x2="83.8" y2="1073.65" stroke="#000" stroke-width="1.5"/>
<line x1="80.6" y1="1058.26" x2="83.8" y2="1058.26" stroke="#000" stroke-width="1.5"/>
<line x1="80.6" y1="1042.87" x2="83.8" y2="1042.87" stroke="#000" stroke-width="1.5"/>
<line x1="80.6" y1="1027.47" x2="83.8" y2="1027.47" stroke="#000" stroke-width="1.5"/>
<line x1="77.8" y1="1012.08" x2="83.8" y2="1012.08" stroke="#000" stroke-width="1.6" stroke-linecap="round"/>
<text x="70.6" y="1016.88" font-size="16" text-anchor="end" stroke="#000" stroke-width="0.22">75</text>
<line x1="80.6" y1="996.68" x2="83.8" y2="996.68" stroke="#000" stroke-width="1.5"/>
<line x1="80.6" y1="981.29" x2="83.8" y2="981.29" stroke="#000" stroke-width="1.5"/>
<line x1="80.6" y1="965.89" x2="83.8" y2="965.89" stroke="#000" stroke-width="1.5"/>
<line x1="80.6" y1="950.50" x2="83.8" y2="950.50" stroke="#000" stroke-width="1.5"/>
<line x1="77.8" y1="935.10" x2="83.8" y2="935.10" stroke="#000" stroke-width="1.6" stroke-linecap="round"/>
<text x="70.6" y="939.90" font-size="16" text-anchor="end" stroke="#000" stroke-width="0.22">100</text>
<line x1="83.80" y1="1243.0" x2="83.80" y2="1249.3" stroke="#000" stroke-width="1.6" stroke-linecap="round"/>
<text x="83.70" y="1269.60" font-size="16" text-anchor="middle" stroke="#000" stroke-width="0.22">0</text>
<line x1="138.70" y1="1243.0" x2="138.70" y2="1249.3" stroke="#000" stroke-width="1.6" stroke-linecap="round"/>
<text x="138.60" y="1269.60" font-size="16" text-anchor="middle" stroke="#000" stroke-width="0.22">12</text>
<line x1="193.60" y1="1243.0" x2="193.60" y2="1249.3" stroke="#000" stroke-width="1.6" stroke-linecap="round"/>
<text x="193.50" y="1269.60" font-size="16" text-anchor="middle" stroke="#000" stroke-width="0.22">24</text>
<line x1="248.50" y1="1243.0" x2="248.50" y2="1249.3" stroke="#000" stroke-width="1.6" stroke-linecap="round"/>
<text x="248.40" y="1269.60" font-size="16" text-anchor="middle" stroke="#000" stroke-width="0.22">36</text>
<line x1="303.40" y1="1243.0" x2="303.40" y2="1249.3" stroke="#000" stroke-width="1.6" stroke-linecap="round"/>
<text x="303.30" y="1269.60" font-size="16" text-anchor="middle" stroke="#000" stroke-width="0.22">48</text>
<line x1="358.30" y1="1243.0" x2="358.30" y2="1249.3" stroke="#000" stroke-width="1.6" stroke-linecap="round"/>
<text x="358.20" y="1269.60" font-size="16" text-anchor="middle" stroke="#000" stroke-width="0.22">60</text>
<line x1="413.20" y1="1243.0" x2="413.20" y2="1249.3" stroke="#000" stroke-width="1.6" stroke-linecap="round"/>
<text x="413.10" y="1269.60" font-size="16" text-anchor="middle" stroke="#000" stroke-width="0.22">72</text>
<line x1="468.10" y1="1243.0" x2="468.10" y2="1249.3" stroke="#000" stroke-width="1.6" stroke-linecap="round"/>
<text x="468.00" y="1269.60" font-size="16" text-anchor="middle" stroke="#000" stroke-width="0.22">84</text>
<text x="235.40" y="1296.70" font-size="19.8" textLength="27.70" lengthAdjust="spacingAndGlyphs" stroke="#000" stroke-width="0.65">Time</text>
<text x="269.00" y="1296.70" font-size="19.8" textLength="52.70" lengthAdjust="spacingAndGlyphs" stroke="#000" stroke-width="0.65">(months)</text>
<text transform="translate(31.2 0) rotate(-90)" x="-1144.40" y="0" font-size="19.8" textLength="39.30" lengthAdjust="spacingAndGlyphs" stroke="#000" stroke-width="0.65">Overall</text>
<text transform="translate(31.2 0) rotate(-90)" x="-1102.90" y="0" font-size="19.8" textLength="48.70" lengthAdjust="spacingAndGlyphs" stroke="#000" stroke-width="0.65">survival</text>
<text transform="translate(31.2 0) rotate(-90)" x="-1048.60" y="0" font-size="19.8" textLength="21.10" lengthAdjust="spacingAndGlyphs" stroke="#000" stroke-width="0.65">(%)</text>
<text x="244.23" y="53.9" font-size="15.2" textLength="80.39" lengthAdjust="spacingAndGlyphs" stroke="#000" stroke-width="0.22">Median time</text>
<text x="252.50" y="71.8" font-size="15.2" textLength="64.38" lengthAdjust="spacingAndGlyphs" stroke="#000" stroke-width="0.22">to relapse</text>
<text x="209.96" y="71.9" font-size="15.2" textLength="11.46" lengthAdjust="spacingAndGlyphs" stroke="#000" stroke-width="0.22">N</text>
<text x="340.55" y="72.2" font-size="15.2" textLength="92.34" lengthAdjust="spacingAndGlyphs" stroke="#000" stroke-width="0.22">2-year relapse</text>
<text x="119.49" y="98.5" font-size="15.2" textLength="66.64" lengthAdjust="spacingAndGlyphs" stroke="#000" stroke-width="0.22">CR MRD-</text>
<text x="119.51" y="123.4" font-size="15.2" textLength="45.16" lengthAdjust="spacingAndGlyphs" stroke="#000" stroke-width="0.22">Others</text>
<text x="206.90" y="98.4" font-size="15.2" textLength="16.91" lengthAdjust="spacingAndGlyphs" stroke="#000" stroke-width="0.22">61</text>
<text x="206.79" y="123.4" font-size="15.2" textLength="18.71" lengthAdjust="spacingAndGlyphs" stroke="#000" stroke-width="0.22">80</text>
<text x="243.32" y="98.4" font-size="15.2" textLength="82.06" lengthAdjust="spacingAndGlyphs" stroke="#000" stroke-width="0.22">13.1 months</text>
<text x="247.80" y="123.4" font-size="15.2" textLength="72.84" lengthAdjust="spacingAndGlyphs" stroke="#000" stroke-width="0.22">4.7 months</text>
<text x="370.43" y="98.3" font-size="15.2" textLength="32.50" lengthAdjust="spacingAndGlyphs" stroke="#000" stroke-width="0.22">58%</text>
<text x="371.48" y="123.3" font-size="15.2" textLength="31.04" lengthAdjust="spacingAndGlyphs" stroke="#000" stroke-width="0.22">73%</text>
<text x="445.75" y="109.9" font-size="15.2" textLength="60.13" lengthAdjust="spacingAndGlyphs" stroke="#000" stroke-width="0.22">P=0.004</text>
<text x="238.01" y="508.7" font-size="15.2" textLength="10.85" lengthAdjust="spacingAndGlyphs" stroke="#000" stroke-width="0.22">N</text>
<text x="266.72" y="508.6" font-size="15.2" textLength="83.10" lengthAdjust="spacingAndGlyphs" stroke="#000" stroke-width="0.22">Median RFS</text>
<text x="359.63" y="508.8" font-size="15.2" textLength="75.00" lengthAdjust="spacingAndGlyphs" stroke="#000" stroke-width="0.22">2-year RFS</text>
<text x="154.29" y="534.8" font-size="15.2" textLength="66.33" lengthAdjust="spacingAndGlyphs" stroke="#000" stroke-width="0.22">CR MRD-</text>
<text x="154.29" y="559.8" font-size="15.2" textLength="45.99" lengthAdjust="spacingAndGlyphs" stroke="#000" stroke-width="0.22">Others</text>
<text x="233.58" y="534.6" font-size="15.2" textLength="17.24" lengthAdjust="spacingAndGlyphs" stroke="#000" stroke-width="0.22">61</text>
<text x="233.47" y="559.6" font-size="15.2" textLength="19.05" lengthAdjust="spacingAndGlyphs" stroke="#000" stroke-width="0.22">80</text>
<text x="267.72" y="534.4" font-size="15.2" textLength="82.27" lengthAdjust="spacingAndGlyphs" stroke="#000" stroke-width="0.22">10.1 months</text>
<text x="271.90" y="559.2" font-size="15.2" textLength="72.84" lengthAdjust="spacingAndGlyphs" stroke="#000" stroke-width="0.22">4.6 months</text>
<text x="380.22" y="534.2" font-size="15.2" textLength="32.71" lengthAdjust="spacingAndGlyphs" stroke="#000" stroke-width="0.22">30%</text>
<text x="381.05" y="559.6" font-size="15.2" textLength="31.87" lengthAdjust="spacingAndGlyphs" stroke="#000" stroke-width="0.22">15%</text>
<text x="440.34" y="546.7" font-size="15.2" textLength="60.54" lengthAdjust="spacingAndGlyphs" stroke="#000" stroke-width="0.22">P=0.008</text>
<text x="237.78" y="941.9" font-size="15.2" textLength="11.21" lengthAdjust="spacingAndGlyphs" stroke="#000" stroke-width="0.22">N</text>
<text x="270.19" y="942.0" font-size="15.2" textLength="76.40" lengthAdjust="spacingAndGlyphs" stroke="#000" stroke-width="0.22">Median OS</text>
<text x="362.81" y="942.0" font-size="15.2" textLength="68.81" lengthAdjust="spacingAndGlyphs" stroke="#000" stroke-width="0.22">2-year OS</text>
<text x="154.60" y="967.6" font-size="15.2" textLength="66.02" lengthAdjust="spacingAndGlyphs" stroke="#000" stroke-width="0.22">CR MRD-</text>
<text x="154.61" y="992.2" font-size="15.2" textLength="44.96" lengthAdjust="spacingAndGlyphs" stroke="#000" stroke-width="0.22">Others</text>
<text x="232.96" y="967.5" font-size="15.2" textLength="17.58" lengthAdjust="spacingAndGlyphs" stroke="#000" stroke-width="0.22">61</text>
<text x="232.82" y="992.0" font-size="15.2" textLength="19.95" lengthAdjust="spacingAndGlyphs" stroke="#000" stroke-width="0.22">80</text>
<text x="267.72" y="967.4" font-size="15.2" textLength="82.27" lengthAdjust="spacingAndGlyphs" stroke="#000" stroke-width="0.22">12.4 months</text>
<text x="267.72" y="992.5" font-size="15.2" textLength="82.27" lengthAdjust="spacingAndGlyphs" stroke="#000" stroke-width="0.22">10.6 months</text>
<text x="380.65" y="967.2" font-size="15.2" textLength="31.87" lengthAdjust="spacingAndGlyphs" stroke="#000" stroke-width="0.22">37%</text>
<text x="381.06" y="992.3" font-size="15.2" textLength="31.66" lengthAdjust="spacingAndGlyphs" stroke="#000" stroke-width="0.22">21%</text>
<text x="444.86" y="979.7" font-size="15.2" textLength="50.42" lengthAdjust="spacingAndGlyphs" stroke="#000" stroke-width="0.22">P=0.10</text>
<text x="13.58" y="34.3" font-size="23.0" font-weight="bold" textLength="17.84" lengthAdjust="spacingAndGlyphs" stroke="#000" stroke-width="0.9" stroke-linejoin="round">A</text>
<text x="15.52" y="486.3" font-size="23.0" font-weight="bold" textLength="15.41" lengthAdjust="spacingAndGlyphs" stroke="#000" stroke-width="0.9" stroke-linejoin="round">B</text>
<text x="14.52" y="920.0" font-size="24.2" font-weight="bold" textLength="16.27" lengthAdjust="spacingAndGlyphs" stroke="#000" stroke-width="0.9" stroke-linejoin="round">C</text>
<line x1="199.2" y1="78.5" x2="232.5" y2="78.5" stroke="#000" stroke-width="1.5"/>
<line x1="238.7" y1="78.5" x2="329.4" y2="78.5" stroke="#000" stroke-width="1.5"/>
<line x1="336.2" y1="78.4" x2="437.9" y2="78.4" stroke="#000" stroke-width="1.5"/>
<line x1="226.9" y1="514.7" x2="259.8" y2="514.7" stroke="#000" stroke-width="1.5"/>
<line x1="266.2" y1="514.7" x2="350.4" y2="514.7" stroke="#000" stroke-width="1.5"/>
<line x1="357.1" y1="514.7" x2="437.5" y2="514.7" stroke="#000" stroke-width="1.5"/>
<line x1="226.7" y1="947.8" x2="259.8" y2="947.8" stroke="#000" stroke-width="1.5"/>
<line x1="266.2" y1="947.8" x2="350.4" y2="947.8" stroke="#000" stroke-width="1.5"/>
<line x1="357.1" y1="947.8" x2="437.5" y2="947.8" stroke="#000" stroke-width="1.5"/>
<line x1="97" y1="93.5" x2="113.75" y2="93.5" stroke="#17346d" stroke-width="2.5"/>
<rect x="104.60" y="89.60" width="1.6" height="3.9" fill="#000"/>
<line x1="97" y1="118.75" x2="113.75" y2="118.75" stroke="#9d0519" stroke-width="2.5"/>
<rect x="104.60" y="114.85" width="1.6" height="3.9" fill="#000"/>
<line x1="132" y1="529.75" x2="148.75" y2="529.75" stroke="#17346d" stroke-width="2.5"/>
<rect x="139.50" y="525.85" width="1.6" height="3.9" fill="#000"/>
<line x1="132" y1="555.1" x2="148.75" y2="555.1" stroke="#9d0519" stroke-width="2.5"/>
<rect x="139.50" y="551.20" width="1.6" height="3.9" fill="#000"/>
<line x1="132" y1="963" x2="148.5" y2="963" stroke="#17346d" stroke-width="2.5"/>
<rect x="139.30" y="959.10" width="1.6" height="3.9" fill="#000"/>
<line x1="132" y1="988.25" x2="148.5" y2="988.25" stroke="#9d0519" stroke-width="2.5"/>
<rect x="139.30" y="984.35" width="1.6" height="3.9" fill="#000"/>
<rect x="0" y="0" width="520" height="2.05" fill="#000"/>
<rect x="0" y="0" width="2.1" height="1316" fill="#000"/>
<rect x="517.75" y="0" width="2.25" height="1316" fill="#000"/>
<rect x="0" y="1313.75" width="520" height="2.25" fill="#000"/>
</svg>
</body></html>
